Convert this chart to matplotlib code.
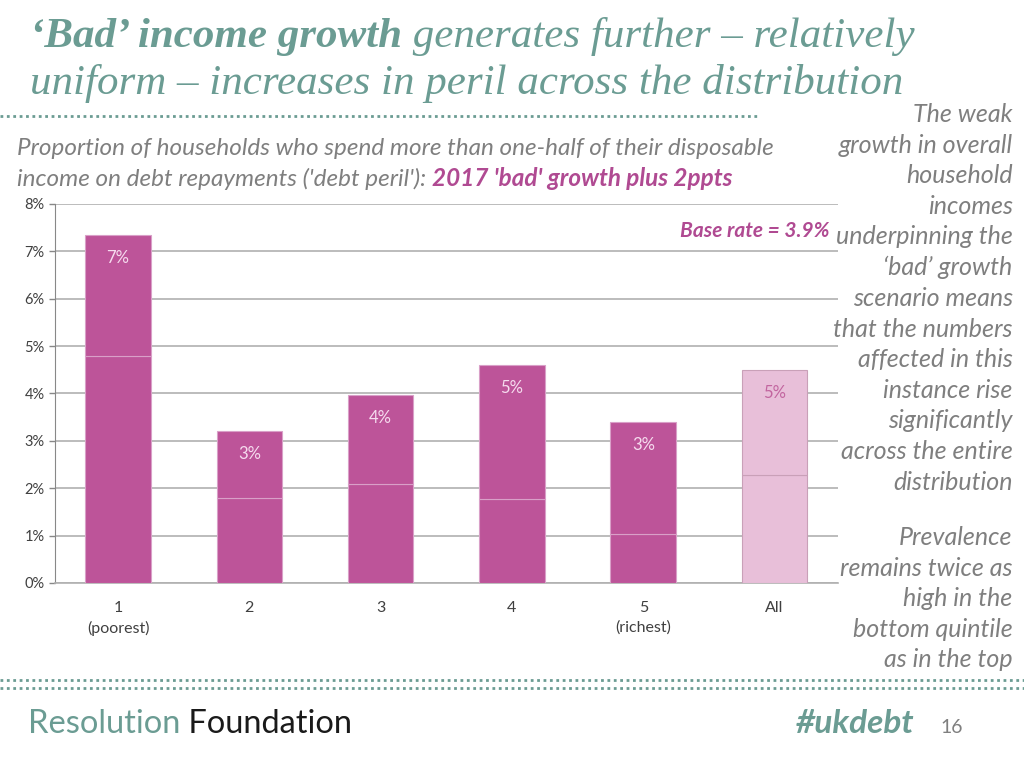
import matplotlib.pyplot as plt
from matplotlib.lines import Line2D

# Données
categories = ['1\n(poorest)', '2', '3', '4', '5\n(richest)', 'All']
base = [4.79, 1.79, 2.09, 1.77, 1.03, 2.28]
totaux = [7.34, 3.21, 3.97, 4.60, 3.40, 4.49]
etiquettes = ['7%', '3%', '4%', '5%', '3%', '5%']

TEAL = '#6b9c93'
GRIS = '#7f7f7f'
MAGENTA = '#b04a92'
BARRE = '#bd5499'
BARRE_CLAIRE = '#e8bfd9'

plt.rcParams['font.family'] = ['Lato', 'DejaVu Sans']

fig = plt.figure(figsize=(10.24, 7.68), dpi=100)
ax = fig.add_axes([0.0537, 0.2409, 0.7643, 0.4935])

x = list(range(len(categories)))
couleurs = [BARRE] * 5 + [BARRE_CLAIRE]
bords = ['#d9a0c8'] * 5 + ['#c9a0b8']
haut = [t - b for t, b in zip(totaux, base)]
ax.bar(x, base, width=0.5, color=couleurs, edgecolor=bords, linewidth=0.8, zorder=3)
ax.bar(x, haut, bottom=base, width=0.5, color=couleurs, edgecolor=bords, linewidth=0.8, zorder=3)

# Étiquettes des barres
for i, (t, lab) in enumerate(zip(totaux, etiquettes)):
    c = '#f6dcef' if i < 5 else '#c2659f'
    ax.annotate(lab, (i, t), xytext=(0, -23), textcoords='offset pixels',
                ha='center', va='center', fontsize=12, color=c, zorder=4)

ax.set_xlim(-0.48, 5.48)
ax.set_ylim(0, 8)
ax.set_yticks(range(9))
ax.set_yticklabels([f'{v}%' for v in range(9)], fontsize=10.5, color='#404040')
ax.set_xticks(x)
ax.set_xticklabels(categories, fontsize=11.5, color='#404040', linespacing=1.45)
ax.tick_params(axis='x', length=0, pad=13)
ax.tick_params(axis='y', length=4, color='#888888', width=1)
ax.grid(axis='y', color='#b0b0b0', linewidth=1.2, zorder=0)
for s in ['top', 'right']:
    ax.spines[s].set_visible(False)
ax.spines['left'].set_color('#888888')
ax.spines['bottom'].set_color('#b0b0b0')
ax.spines['bottom'].set_linewidth(1.2)

ax.text(5.42, 7.42, 'Base rate = 3.9%', ha='right', va='center', fontsize=15,
        fontweight='bold', style='italic', color=MAGENTA)

# Titre
t1 = fig.text(0.029, 0.939, '‘Bad’ income growth', family='Liberation Serif', fontsize=31,
              fontweight='bold', style='italic', color=TEAL, va='baseline')
ax.annotate(' generates further – relatively', xy=(1, 0), xycoords=t1, va='bottom',
            family='Liberation Serif', fontsize=31, style='italic', color=TEAL)
fig.text(0.029, 0.877, 'uniform – increases in peril across the distribution', family='Liberation Serif',
         fontsize=31, style='italic', color=TEAL, va='baseline')

# Sous-titre
fig.text(0.017, 0.798, 'Proportion of households who spend more than one-half of their disposable',
         fontsize=17.5, style='italic', color=GRIS, va='baseline')
s2 = fig.text(0.017, 0.758, "income on debt repayments ('debt peril'): ", fontsize=17.5,
              style='italic', color=GRIS, va='baseline')
ax.annotate("2017 'bad' growth plus 2ppts", xy=(1, 0), xycoords=s2, va='bottom',
            fontsize=17.5, style='italic', fontweight='bold', color=MAGENTA)

# Texte de droite
fig.text(0.989, 0.866, 'The weak\ngrowth in overall\nhousehold\nincomes\nunderpinning the\n‘bad’ growth\n'
         'scenario means\nthat the numbers\naffected in this\ninstance rise\nsignificantly\n'
         'across the entire\ndistribution', ha='right', va='top', multialignment='right',
         fontsize=18, style='italic', color=GRIS, linespacing=1.40)
fig.text(0.989, 0.315, 'Prevalence\nremains twice as\nhigh in the\nbottom quintile\nas in the top',
         ha='right', va='top', multialignment='right',
         fontsize=18, style='italic', color=GRIS, linespacing=1.40)

# Lignes pointillées
fig.add_artist(Line2D([0.0, 0.74], [0.849, 0.849], color=TEAL, linestyle=(0, (1, 1.3)), linewidth=2))
fig.add_artist(Line2D([0.0, 1.0], [0.115, 0.115], color=TEAL, linestyle=(0, (1, 1.3)), linewidth=2))
fig.add_artist(Line2D([0.0, 1.0], [0.104, 0.104], color=TEAL, linestyle=(0, (1, 1.3)), linewidth=2))

# Pied de page
r = fig.text(0.027, 0.046, 'Resolution', fontsize=23.5, color=TEAL, va='baseline')
ax.annotate(' Foundation', xy=(1, 0), xycoords=r, va='bottom', fontsize=23.5, color='#1a1a1a')
fig.text(0.777, 0.046, '#ukdebt', fontsize=24, fontweight='bold', style='italic', color=TEAL, va='baseline')
fig.text(0.918, 0.046, '16', fontsize=14, color=GRIS, va='baseline')

fig.savefig('out.png', dpi=100)
